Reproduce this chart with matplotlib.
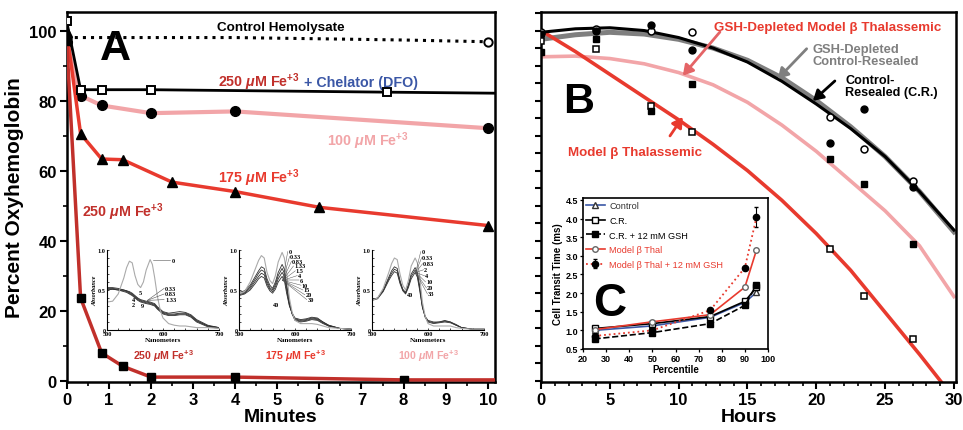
import numpy as np
import matplotlib
matplotlib.use("Agg")
import matplotlib.pyplot as plt
from matplotlib.ticker import MultipleLocator

plt.rcParams['font.family'] = ['Liberation Sans', 'DejaVu Sans']
plt.rcParams['font.weight'] = 'bold'
plt.rcParams['axes.labelweight'] = 'bold'
plt.rcParams['mathtext.fontset'] = 'custom'
plt.rcParams['mathtext.rm'] = 'Liberation Sans:bold'
plt.rcParams['mathtext.it'] = 'Liberation Sans:bold:italic'
plt.rcParams['mathtext.bf'] = 'Liberation Sans:bold'

DKRED = '#c1302b'
RED = '#e83a2e'
PINK = '#f2a5a8'
BLUE = '#3b57a6'
GRAY = '#7f7f7f'

# ---- panel A data (minutes vs % oxyhemoglobin)
t_ctrl = [0, 4, 8, 10]
ctrl = [98, 98, 97.3, 96.8]
t_dfo = [0, 0.33, 0.83, 2, 7.6, 10.2]
dfo = [102.6, 83.1, 83.1, 83.1, 82.4, 82.1]
t_100 = [0, 0.33, 0.83, 2, 4, 10]
fe100 = [96.7, 81.4, 78.6, 76.4, 76.9, 72.1]
t_175 = [0, 0.33, 0.83, 1.33, 2.5, 4, 6, 10]
fe175 = [99.6, 70.5, 63.3, 63.1, 56.7, 54.0, 49.5, 44.3]
t_250 = [0, 0.33, 0.83, 1.33, 2, 4, 8, 10.2]
fe250 = [97, 23.6, 7.9, 4.1, 1.0, 1.0, 0.2, 0.2]

# spectra insets (absorbance vs nm)
wl = [500, 510, 520, 530, 535, 540, 545, 550, 555, 560, 565, 570, 577, 581, 585, 590, 595, 600, 610, 620, 630, 640, 650, 660, 680, 700]
spec250_0 = [0.35, 0.36, 0.45, 0.65, 0.78, 0.86, 0.84, 0.68, 0.57, 0.53, 0.60, 0.75, 0.88, 0.82, 0.66, 0.42, 0.25, 0.15, 0.08, 0.06, 0.05, 0.05, 0.04, 0.03, 0.03, 0.02]
spec250 = [
    [0.53, 0.53, 0.52, 0.50, 0.49, 0.47, 0.45, 0.42, 0.39, 0.37, 0.36, 0.35, 0.34, 0.33, 0.32, 0.28, 0.25, 0.22, 0.20, 0.20, 0.21, 0.21, 0.18, 0.12, 0.05, 0.03],
    [0.50, 0.51, 0.50, 0.49, 0.48, 0.46, 0.44, 0.41, 0.38, 0.36, 0.35, 0.34, 0.33, 0.32, 0.31, 0.27, 0.24, 0.21, 0.19, 0.19, 0.20, 0.20, 0.17, 0.11, 0.05, 0.03],
    [0.52, 0.52, 0.51, 0.50, 0.49, 0.48, 0.46, 0.43, 0.40, 0.38, 0.37, 0.36, 0.35, 0.34, 0.33, 0.29, 0.26, 0.23, 0.21, 0.22, 0.23, 0.22, 0.19, 0.13, 0.06, 0.03],
    [0.51, 0.51, 0.50, 0.48, 0.47, 0.45, 0.43, 0.40, 0.37, 0.35, 0.34, 0.33, 0.32, 0.31, 0.30, 0.26, 0.23, 0.20, 0.18, 0.18, 0.19, 0.19, 0.16, 0.10, 0.04, 0.02],
]
spec175_0 = [0.45, 0.48, 0.60, 0.78, 0.87, 0.93, 0.90, 0.72, 0.62, 0.58, 0.68, 0.85, 0.97, 0.90, 0.72, 0.40, 0.22, 0.12, 0.08, 0.08, 0.08, 0.07, 0.05, 0.03, 0.02, 0.01]
spec175 = [
    [0.47, 0.49, 0.56, 0.68, 0.74, 0.79, 0.77, 0.64, 0.56, 0.52, 0.60, 0.72, 0.82, 0.76, 0.58, 0.35, 0.20, 0.12, 0.10, 0.11, 0.13, 0.12, 0.08, 0.05, 0.02, 0.01],
    [0.45, 0.47, 0.54, 0.65, 0.71, 0.75, 0.73, 0.61, 0.53, 0.50, 0.57, 0.68, 0.77, 0.71, 0.54, 0.33, 0.20, 0.13, 0.11, 0.12, 0.14, 0.13, 0.09, 0.05, 0.02, 0.01],
    [0.44, 0.46, 0.52, 0.62, 0.67, 0.71, 0.69, 0.58, 0.51, 0.48, 0.54, 0.64, 0.72, 0.67, 0.50, 0.31, 0.20, 0.14, 0.12, 0.13, 0.15, 0.14, 0.10, 0.06, 0.02, 0.01],
    [0.43, 0.45, 0.50, 0.59, 0.64, 0.67, 0.65, 0.55, 0.49, 0.46, 0.51, 0.60, 0.67, 0.62, 0.46, 0.30, 0.21, 0.15, 0.13, 0.14, 0.16, 0.15, 0.10, 0.06, 0.02, 0.01],
]
spec100_0 = [0.37, 0.40, 0.52, 0.72, 0.83, 0.90, 0.88, 0.70, 0.56, 0.50, 0.62, 0.80, 0.90, 0.84, 0.68, 0.35, 0.17, 0.08, 0.05, 0.05, 0.05, 0.05, 0.03, 0.02, 0.01, 0.01]
spec100 = [
    [0.38, 0.40, 0.50, 0.66, 0.74, 0.79, 0.77, 0.62, 0.51, 0.47, 0.57, 0.70, 0.78, 0.72, 0.56, 0.30, 0.16, 0.10, 0.08, 0.09, 0.10, 0.09, 0.06, 0.03, 0.01, 0.01],
    [0.38, 0.40, 0.49, 0.64, 0.71, 0.76, 0.74, 0.60, 0.50, 0.46, 0.55, 0.67, 0.75, 0.69, 0.53, 0.29, 0.16, 0.11, 0.09, 0.10, 0.11, 0.10, 0.06, 0.03, 0.01, 0.01],
    [0.37, 0.39, 0.48, 0.62, 0.68, 0.73, 0.71, 0.58, 0.49, 0.45, 0.53, 0.64, 0.72, 0.66, 0.50, 0.28, 0.17, 0.12, 0.10, 0.10, 0.12, 0.10, 0.07, 0.03, 0.01, 0.01],
]
fan175 = ['0', '0.33', '0.83', '1.33', '1.5', '4', '6', '10', '15', '20', '30']
fan100 = ['0', '0.33', '0.83', '2', '4', '10', '20', '33']

# ---- panel B data (hours)
h_fit = [0, 2.5, 5, 7.5, 10, 12.5, 15, 17.5, 20, 22.5, 25, 27.5, 30]
cr_fit = [99.5, 100.5, 100.8, 100, 98, 95, 91, 85.5, 79, 72, 64, 54, 43]
gsh_cr_fit = [97.5, 98.8, 99.5, 99, 97.5, 95, 91.5, 86.5, 80, 72.5, 64, 54, 42.5]
gsh_thal_fit = [92.5, 92.7, 92, 90.5, 88, 84.5, 79.5, 73, 65.5, 57, 48.5, 38.5, 24]
thal_fit = [100, 94, 87.5, 81, 74.5, 67.5, 60, 51.5, 42, 31.5, 19.5, 7.5, -5]

h_pts = [0, 4, 8, 11, 21, 23.5, 27]
open_circ = [99.6, 100.5, 100, 99.6, 75.3, 66.2, 57]
fill_circ = [99, 100, 101.6, 94.5, 68, 77.6, 55.3]
open_sq = [97, 94.7, 78.5, 71, 37.6, 24.2, 11.9]
fill_sq = [93.9, 97.6, 77, 84.8, 63.3, 56.2, 39]

# ---- panel C data (percentile vs transit time)
pct = [25, 50, 75, 90, 95]
c_control = [1.0, 1.12, 1.35, 1.75, 2.02]
c_cr = [1.05, 1.18, 1.37, 1.78, 2.15]
c_cr_gsh = [0.77, 0.94, 1.18, 1.67, 2.22]
c_thal = [1.02, 1.23, 1.42, 2.16, 3.15]
c_thal_gsh = [0.85, 1.0, 1.54, 2.68, 4.03]
c_thal_gsh_err = [0, 0, 0, 0, 0.27]

fig = plt.figure(figsize=(9.63, 4.31), dpi=100)
W, H = 963.0, 431.0


def style_main(ax):
    for s in ax.spines.values():
        s.set_linewidth(1.8)
    ax.tick_params(which='major', direction='out', length=5, width=1.5, labelsize=12, pad=2)
    ax.tick_params(which='minor', direction='out', length=3, width=1.2)


# ================= panel A
axA = fig.add_axes([66.7 / W, 48 / H, 428.3 / W, 370 / H])
style_main(axA)
axA.set_xlim(0, 10.17)
axA.set_ylim(-0.4, 105.3)
axA.xaxis.set_major_locator(MultipleLocator(1))
axA.xaxis.set_minor_locator(MultipleLocator(0.5))
axA.yaxis.set_major_locator(MultipleLocator(20))
axA.yaxis.set_minor_locator(MultipleLocator(10))
axA.set_xlabel('Minutes', fontsize=14, labelpad=1)
axA.set_ylabel('Percent Oxyhemoglobin', fontsize=15, labelpad=4)

axA.plot(t_ctrl, ctrl, ':', color='black', lw=2.2, marker='o', ms=6, mfc='white', mec='black', mew=1.4, markevery=[0, 3], zorder=3)
axA.plot(t_dfo, dfo, '-', color='black', lw=2, marker='s', ms=6, mfc='white', mec='black', mew=1.4, markevery=[0, 1, 2, 3, 4], zorder=4)
axA.plot(t_100, fe100, '-', color=PINK, lw=3, marker='o', ms=7, mfc='black', mec='black', zorder=3)
axA.plot(t_175, fe175, '-', color=RED, lw=2.5, marker='^', ms=7, mfc='black', mec='black', zorder=3)
axA.plot(t_250, fe250, '-', color=DKRED, lw=2.5, marker='s', ms=6, mfc='black', mec='black', markevery=[0, 1, 2, 3, 4, 5, 6], zorder=3)

axA.text(0.79, 91.9, 'A', fontsize=31, fontweight='bold')
axA.text(5.09, 101.1, 'Control Hemolysate', fontsize=9.7, ha='center', va='center')
t1 = axA.text(3.6, 84.2, r'250 $\mu$M Fe$^{+3}$', fontsize=10.3, color=DKRED, va='baseline')
fig.canvas.draw()
bb = t1.get_window_extent()
x_end = axA.transData.inverted().transform((bb.x1, bb.y0))[0]
axA.text(x_end, 84.2, ' + Chelator (DFO)', fontsize=10.3, color=BLUE, va='baseline', ha='left')
axA.text(6.18, 67.3, r'100 $\mu$M Fe$^{+3}$', fontsize=10.3, color=PINK, va='baseline')
axA.text(3.6, 56.8, r'175 $\mu$M Fe$^{+3}$', fontsize=10.3, color=RED, va='baseline')
axA.text(0.36, 47, r'250 $\mu$M Fe$^{+3}$', fontsize=10.3, color=DKRED, va='baseline')

# spectra insets
inset_left = [107, 239, 372]
inset_first = [spec250_0, spec175_0, spec100_0]
inset_rest = [spec250, spec175, spec100]
inset_names = [r'250 $\mu$M Fe$^{+3}$', r'175 $\mu$M Fe$^{+3}$', r'100 $\mu$M Fe$^{+3}$']
inset_cols = [DKRED, RED, PINK]
serif = ['Liberation Serif', 'DejaVu Serif']
for k in range(3):
    ai = fig.add_axes([inset_left[k] / W, 100 / H, 112 / W, 80 / H])
    ai.patch.set_alpha(0)
    for s in ['top', 'right']:
        ai.spines[s].set_visible(False)
    for s in ['left', 'bottom']:
        ai.spines[s].set_linewidth(0.8)
    ai.set_xlim(500, 700)
    ai.set_ylim(0, 1.0)
    ai.set_xticks([500, 600, 700])
    ai.set_yticks([0, 0.5, 1.0])
    ai.set_yticklabels(['0', '0.5', '1.0'])
    ai.xaxis.set_minor_locator(MultipleLocator(20))
    ai.yaxis.set_minor_locator(MultipleLocator(0.1))
    ai.tick_params(which='both', direction='in', length=1.5, width=0.5, labelsize=4.5, pad=1)
    for lab in ai.get_xticklabels() + ai.get_yticklabels():
        lab.set_family(serif)
    ai.set_xlabel('Nanometers', fontsize=5, labelpad=0.5, family=serif)
    ai.set_ylabel('Absorbance', fontsize=4.5, labelpad=0.5, family=serif, fontstyle='italic')
    for sp in inset_rest[k]:
        ai.plot(wl, sp, color='#303030', lw=0.6)
    ai.plot(wl, inset_first[k], color='#aaaaaa', lw=0.8)
    fig.text((inset_left[k] + 56) / W, 75 / H, inset_names[k], fontsize=7.6, color=inset_cols[k], ha='center', va='center')

    if k == 0:
        ai.plot([583, 613], [0.87, 0.87], color='#555555', lw=0.4)
        ai.text(616, 0.87, '0', fontsize=4.5, va='center', family=serif)
        for j, lab in enumerate(['0.33', '0.83', '1.33']):
            y = 0.52 - 0.07 * j
            ai.plot([572, 602], [0.37, y], color='#555555', lw=0.4)
            ai.text(604, y, lab, fontsize=4.5, va='center', family=serif)
        ai.text(557, 0.45, '5', fontsize=4.5, family=serif)
        ai.text(545, 0.36, '4', fontsize=4.5, family=serif)
        ai.text(545, 0.30, '2', fontsize=4.5, family=serif)
        ai.text(560, 0.29, '9', fontsize=4.5, family=serif)
    else:
        fan = fan175 if k == 1 else fan100
        ys = np.linspace(0.98, 0.38 if k == 1 else 0.45, len(fan))
        xs = np.linspace(588, 622 if k == 1 else 600, len(fan))
        for j, lab in enumerate(fan):
            ai.plot([578, xs[j] - 1], [0.62 if k == 1 else 0.72, ys[j]], color='#555555', lw=0.35)
            ai.text(xs[j], ys[j], lab, fontsize=4.5, va='center', family=serif)
        ai.text(560 if k == 1 else 563, 0.3 if k == 1 else 0.43, '40', fontsize=4.5, family=serif)

# ================= panel B
axB = fig.add_axes([541 / W, 48 / H, 415 / W, 370 / H])
style_main(axB)
axB.set_xlim(0, 30.15)
axB.set_ylim(-0.4, 105.3)
axB.xaxis.set_major_locator(MultipleLocator(5))
axB.xaxis.set_minor_locator(MultipleLocator(1))
axB.yaxis.set_major_locator(MultipleLocator(5))
axB.tick_params(axis='y', labelleft=False, length=4)
axB.set_xlabel('Hours', fontsize=14, labelpad=1)

axB.plot(h_fit, gsh_cr_fit, '-', color=GRAY, lw=3.6, zorder=2)
axB.plot(h_fit, cr_fit, '-', color='black', lw=2.2, zorder=3)
axB.plot(h_fit, gsh_thal_fit, '-', color=PINK, lw=2.6, zorder=2)
axB.plot(h_fit, thal_fit, '-', color=RED, lw=2.6, zorder=2)

axB.plot(h_pts, open_circ, 'o', ms=5, mfc='white', mec='black', mew=1.1, zorder=4)
axB.plot(h_pts, fill_circ, 'o', ms=5, mfc='black', mec='black', zorder=4)
axB.plot(h_pts, open_sq, 's', ms=5, mfc='white', mec='black', mew=1.1, zorder=4)
axB.plot(h_pts, fill_sq, 's', ms=5, mfc='black', mec='black', zorder=4)

axB.text(1.6, 76.8, 'B', fontsize=31, fontweight='bold')
axB.text(20.84, 101.1, 'GSH-Depleted Model β Thalassemic', fontsize=9.6, color=RED, ha='center', va='center')
axB.text(19.7, 96.5, 'GSH-Depleted\nControl-Resealed', fontsize=9.3, color=GRAY, ha='left', va='top', linespacing=1.05)
axB.text(22.1, 87.6, 'Control-\nResealed (C.R.)', fontsize=9.1, color='black', ha='left', va='top', linespacing=1.05)
axB.text(6.83, 65.3, 'Model β Thalassemic', fontsize=9.6, color=RED, ha='center', va='center')

arrow_kw = dict(arrowstyle='-|>,head_length=0.6,head_width=0.35', lw=2, shrinkA=0, shrinkB=0)
axB.annotate('', xy=(10.3, 87.1), xytext=(13.0, 99.6), arrowprops=dict(color='#e46466', **arrow_kw))
axB.annotate('', xy=(17.2, 86.2), xytext=(19.3, 94.8), arrowprops=dict(color=GRAY, **arrow_kw))
axB.annotate('', xy=(19.75, 79.9), xytext=(21.35, 85.6), arrowprops=dict(color='black', **arrow_kw))
axB.annotate('', xy=(10.3, 75.3), xytext=(9.37, 69.9), arrowprops=dict(color=RED, **arrow_kw))

# ================= panel C (inset)
axC = fig.add_axes([583 / W, 81 / H, 185 / W, 151 / H])
for s in axC.spines.values():
    s.set_linewidth(1.2)
axC.set_xlim(20, 100)
axC.set_ylim(0.5, 4.55)
axC.xaxis.set_major_locator(MultipleLocator(10))
axC.yaxis.set_major_locator(MultipleLocator(0.5))
axC.yaxis.set_major_formatter(plt.FormatStrFormatter('%.1f'))
axC.tick_params(direction='out', length=2.5, width=0.9, labelsize=6.5, pad=1)
axC.set_xlabel('Percentile', fontsize=7, labelpad=1)
axC.set_ylabel('Cell Transit Time (ms)', fontsize=7, labelpad=2)

axC.plot(pct, c_control, '-', color=BLUE, lw=1.2, marker='^', ms=4, mfc='white', mec='#333333', label='Control', zorder=3)
axC.plot(pct, c_cr, '-', color='black', lw=1.2, marker='s', ms=4, mfc='white', mec='black', label='C.R.', zorder=3)
axC.plot(pct, c_cr_gsh, '--', color='black', lw=1.2, marker='s', ms=4.5, mfc='black', mec='black', label='C.R. + 12 mM GSH', zorder=3)
axC.plot(pct, c_thal, '-', color=RED, lw=1.2, marker='o', ms=4, mfc='white', mec='#666666', label='Model β Thal', zorder=3)
axC.errorbar(pct, c_thal_gsh, yerr=c_thal_gsh_err, fmt='o:', color=RED, lw=1.3, ms=4.5, mfc='black', mec='black',
             ecolor='black', elinewidth=0.8, capsize=1.5, label='Model β Thal + 12 mM GSH', zorder=3)
leg = axC.legend(loc='upper left', fontsize=6.6, frameon=False, handlelength=2.0, handletextpad=0.5,
                 labelspacing=0.62, borderaxespad=0.25, borderpad=0.1)
for txt, col in zip(leg.get_texts(), ['#333333', 'black', 'black', RED, RED]):
    txt.set_color(col)
    txt.set_fontweight('normal')
axC.text(24.3, 1.4, 'C', fontsize=33, fontweight='bold')

fig.savefig('out.png', dpi=100)
